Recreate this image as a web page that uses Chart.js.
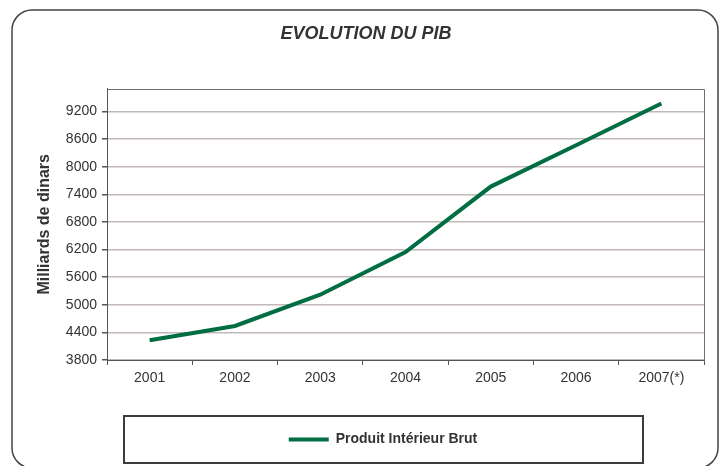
<!DOCTYPE html>
<html lang="fr">
<head>
<meta charset="utf-8">
<title>Evolution du PIB</title>
<script src="https://cdn.jsdelivr.net/npm/chart.js@4.4.1/dist/chart.umd.min.js"></script>
<style>
  html, body { margin: 0; padding: 0; background: #fff; }
  #pib { display: block; }
</style>
</head>
<body>
<canvas id="pib" width="720" height="466"></canvas>
<script>
// années et PIB en milliards de dinars
const annees = ['2001', '2002', '2003', '2004', '2005', '2006', '2007(*)'];
const pib = [4230, 4540, 5220, 6145, 7570, 8470, 9375];

// graduations de l'axe vertical et bornes
const graduations = [3800, 4400, 5000, 5600, 6200, 6800, 7400, 8000, 8600, 9200];
const yMin = 3800;
const yMax = 9700;

const VERT = '#006d43';
const GRIS_TEXTE = '#333333';
const GRIS_AXE = '#555555';
const GRIS_GRILLE = '#c2b9b7';
const POLICE = "'Liberation Sans', Arial, sans-serif";

// contour arrondi, bord haut/droite du tracé et boite de légende
const cadres = {
	id: 'cadres',
	afterLayout(chart) {
		// la légende est centrée sous sa boite, un peu à droite du titre
		chart.legend.left += 17;
		chart.legend.right += 17;
	},
	afterDraw(chart) {
		const ctx = chart.ctx;
		const a = chart.chartArea;
		const l = Math.round(a.left) + 0.5;
		const t = Math.round(a.top) + 0.5;
		const r = Math.round(a.right) + 0.5;
		const b = Math.round(a.bottom) + 0.5;

		ctx.save();
		ctx.strokeStyle = '#6e6e6e';
		ctx.lineWidth = 1;
		ctx.beginPath();
		ctx.moveTo(l, t);
		ctx.lineTo(r, t);
		ctx.lineTo(r, b);
		ctx.stroke();

		// boite autour de la légende
		ctx.strokeStyle = '#3c3c3c';
		ctx.lineWidth = 2;
		ctx.strokeRect(124, 416, 519, 47);

		// contour général
		ctx.strokeStyle = '#444';
		ctx.lineWidth = 1.5;
		ctx.beginPath();
		ctx.roundRect(12, 10, 706, 458, 20);
		ctx.stroke();
		ctx.restore();
	}
};

const ctx = document.getElementById('pib').getContext('2d');

const graphique = new Chart(ctx, {
	type: 'line',
	data: {
		labels: annees,
		datasets: [{
			label: 'Produit Intérieur Brut',
			data: pib,
			borderColor: VERT,
			backgroundColor: VERT,
			borderWidth: 4,
			pointRadius: 0,
			tension: 0,
			fill: false
		}]
	},
	options: {
		responsive: false,
		animation: false,
		devicePixelRatio: 1,
		layout: {
			padding: { left: 28, right: 16, top: 0, bottom: 9.5 }
		},
		plugins: {
			title: {
				display: true,
				text: 'EVOLUTION DU PIB',
				color: GRIS_TEXTE,
				font: { family: POLICE, size: 18, weight: 'bold', style: 'italic' },
				padding: { top: 23, bottom: 44 }
			},
			legend: {
				position: 'bottom',
				labels: {
					color: GRIS_TEXTE,
					font: { family: POLICE, size: 14, weight: 'bold' },
					boxWidth: 40,
					boxHeight: 4,
					padding: 10,
					// trait plein sans contour dans la légende
					generateLabels: chart => Chart.defaults.plugins.legend.labels.generateLabels(chart)
						.map(item => Object.assign(item, { lineWidth: 0, fillStyle: VERT }))
				}
			},
			tooltip: { enabled: false }
		},
		scales: {
			x: {
				type: 'category',
				offset: true,
				grid: {
					offset: true,
					drawOnChartArea: false,
					drawTicks: true,
					tickLength: 5,
					tickColor: GRIS_AXE
				},
				border: { color: GRIS_AXE, width: 1 },
				ticks: {
					color: GRIS_TEXTE,
					font: { family: POLICE, size: 14 },
					padding: 5,
					maxRotation: 0
				},
				afterFit: scale => { scale.height = 62.5; }
			},
			y: {
				min: yMin,
				max: yMax,
				grid: {
					color: GRIS_GRILLE,
					lineWidth: 1.5,
					tickLength: 5,
					tickColor: GRIS_AXE
				},
				border: { color: GRIS_AXE, width: 1 },
				ticks: {
					color: GRIS_TEXTE,
					font: { family: POLICE, size: 14 },
					padding: 5,
					callback: v => String(v)
				},
				afterBuildTicks: scale => {
					scale.ticks = graduations.map(v => ({ value: v }));
				},
				title: {
					display: true,
					text: 'Milliards de dinars',
					color: GRIS_TEXTE,
					font: { family: POLICE, size: 16, weight: 'bold' },
					padding: { top: 7.4, bottom: 0 }
				},
				afterFit: scale => { scale.width = 79; }
			}
		}
	},
	plugins: [cadres]
});
</script>
</body>
</html>
